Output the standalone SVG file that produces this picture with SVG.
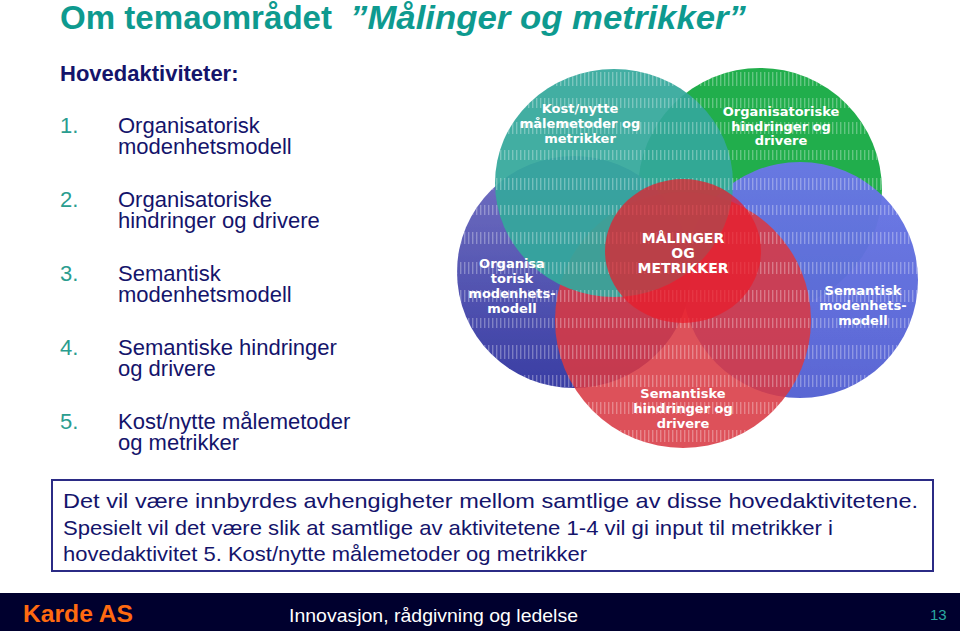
<svg xmlns="http://www.w3.org/2000/svg" width="960" height="631" viewBox="0 0 960 631">
<style>
.title{font-family:"Liberation Sans",Arial,sans-serif;font-weight:bold;font-size:33px;fill:#0e9a8f}
.hdr{font-family:"Liberation Sans",Arial,sans-serif;font-weight:bold;font-size:22px;fill:#14146b}
.num{font-family:"Liberation Sans",Arial,sans-serif;font-size:22px;fill:#2a9d8f}
.item{font-family:"Liberation Sans",Arial,sans-serif;font-size:22px;fill:#14146b}
.lbl{font-family:"DejaVu Sans",Verdana,sans-serif;font-weight:bold;font-size:13px;fill:#ffffff;text-anchor:middle}
.lblc{font-family:"DejaVu Sans",Verdana,sans-serif;font-weight:bold;font-size:14px;fill:#ffffff;text-anchor:middle}
.box{font-family:"Liberation Sans",Arial,sans-serif;font-size:21px;fill:#14146b}
.foot{font-family:"Liberation Sans",Arial,sans-serif}
</style>
<defs>
<linearGradient id="gLB" x1="0" y1="0" x2="0" y2="1">
<stop offset="0" stop-color="#7472c2"/><stop offset="1" stop-color="#3a3ea4"/>
</linearGradient>
<linearGradient id="gRB" x1="0" y1="0" x2="0" y2="1">
<stop offset="0" stop-color="#6a78e6"/><stop offset="1" stop-color="#5562d2"/>
</linearGradient>
<pattern id="vs" width="4" height="10" patternUnits="userSpaceOnUse">
<rect x="0" y="0" width="1.4" height="10" fill="#ffffff"/>
</pattern>
<clipPath id="cu">
<ellipse cx="614" cy="183" rx="119" ry="114"/>
<circle cx="760" cy="190" r="122"/>
<ellipse cx="800" cy="280" rx="118" ry="118"/>
<ellipse cx="574" cy="272" rx="117" ry="116"/>
<circle cx="683" cy="320" r="128"/>
</clipPath>
</defs>

<rect width="960" height="631" fill="#ffffff"/>

<text class="title" x="60" y="29"><tspan textLength="272" lengthAdjust="spacingAndGlyphs">Om temaområdet</tspan><tspan x="350" font-style="italic" textLength="396" lengthAdjust="spacingAndGlyphs">”Målinger og metrikker”</tspan></text>

<text class="hdr" x="60" y="81">Hovedaktiviteter:</text>
<g id="list">
<text class="num" x="60" y="133">1.</text>
<text class="item" x="118" y="133">Organisatorisk</text>
<text class="item" x="118" y="154">modenhetsmodell</text>
<text class="num" x="60" y="207">2.</text>
<text class="item" x="118" y="207">Organisatoriske</text>
<text class="item" x="118" y="228">hindringer og drivere</text>
<text class="num" x="60" y="281">3.</text>
<text class="item" x="118" y="281">Semantisk</text>
<text class="item" x="118" y="302">modenhetsmodell</text>
<text class="num" x="60" y="355">4.</text>
<text class="item" x="118" y="355">Semantiske hindringer</text>
<text class="item" x="118" y="376">og drivere</text>
<text class="num" x="60" y="429">5.</text>
<text class="item" x="118" y="429">Kost/nytte målemetoder</text>
<text class="item" x="118" y="450">og metrikker</text>
</g>

<g id="venn">
<g id="n-org-hindringer"><circle cx="760" cy="190" r="122" fill="#22ae4c"/></g>
<g id="n-sem-modenhet"><ellipse cx="800" cy="280" rx="118" ry="118" fill="url(#gRB)" opacity="0.97"/></g>
<g id="n-org-modenhet"><ellipse cx="574" cy="272" rx="117" ry="116" fill="url(#gLB)"/></g>
<g id="n-sem-hindringer"><circle cx="683" cy="320" r="128" fill="#d83a44" opacity="0.88"/></g>
<g id="n-kost"><ellipse cx="614" cy="183" rx="119" ry="114" fill="#35a89c" opacity="0.93"/></g>
<g id="stripes" clip-path="url(#cu)" opacity="0.3">
<rect x="440" y="72" width="500" height="14" fill="url(#vs)"/>
<rect x="440" y="98" width="500" height="10" fill="url(#vs)"/>
<rect x="440" y="122" width="500" height="12" fill="url(#vs)"/>
<rect x="440" y="150" width="500" height="10" fill="url(#vs)"/>
<rect x="440" y="178" width="500" height="12" fill="url(#vs)"/>
<rect x="440" y="205" width="500" height="10" fill="url(#vs)"/>
<rect x="440" y="232" width="500" height="12" fill="url(#vs)"/>
<rect x="440" y="262" width="500" height="12" fill="url(#vs)"/>
<rect x="440" y="290" width="500" height="12" fill="url(#vs)"/>
<rect x="440" y="318" width="500" height="10" fill="url(#vs)"/>
<rect x="440" y="345" width="500" height="14" fill="url(#vs)"/>
<rect x="440" y="375" width="500" height="12" fill="url(#vs)"/>
<rect x="440" y="402" width="500" height="12" fill="url(#vs)"/>
<rect x="440" y="430" width="500" height="12" fill="url(#vs)"/>
</g>
<g id="n-center"><ellipse cx="683" cy="251" rx="78" ry="72" fill="#ea1c2a" opacity="0.72"/></g>

<text class="lbl" x="580" y="113">Kost/nytte</text>
<text class="lbl" x="580" y="128">målemetoder og</text>
<text class="lbl" x="580" y="143">metrikker</text>

<text class="lbl" x="781" y="116">Organisatoriske</text>
<text class="lbl" x="781" y="131">hindringer og</text>
<text class="lbl" x="781" y="145">drivere</text>

<text class="lblc" x="683" y="243">MÅLINGER</text>
<text class="lblc" x="683" y="258">OG</text>
<text class="lblc" x="683" y="273">METRIKKER</text>

<text class="lbl" x="512" y="268">Organisa</text>
<text class="lbl" x="512" y="283">torisk</text>
<text class="lbl" x="512" y="298">modenhets-</text>
<text class="lbl" x="512" y="313">modell</text>

<text class="lbl" x="863" y="295">Semantisk</text>
<text class="lbl" x="863" y="310">modenhets-</text>
<text class="lbl" x="863" y="325">modell</text>

<text class="lbl" x="683" y="398">Semantiske</text>
<text class="lbl" x="683" y="413">hindringer og</text>
<text class="lbl" x="683" y="428">drivere</text>
</g>

<g id="note">
<rect x="52" y="480" width="881" height="91" fill="#ffffff" stroke="#2b2b85" stroke-width="2"/>
<text class="box" x="63" y="508" textLength="855" lengthAdjust="spacingAndGlyphs">Det vil være innbyrdes avhengigheter mellom samtlige av disse hovedaktivitetene.</text>
<text class="box" x="63" y="535" textLength="770" lengthAdjust="spacingAndGlyphs">Spesielt vil det være slik at samtlige av aktivitetene 1-4 vil gi input til metrikker i</text>
<text class="box" x="63" y="561" textLength="524" lengthAdjust="spacingAndGlyphs">hovedaktivitet 5. Kost/nytte målemetoder og metrikker</text>
</g>

<g id="footer">
<rect x="0" y="593" width="960" height="38" fill="#00002e"/>
<text class="foot" x="23" y="622" font-size="23" font-weight="bold" fill="#ff6a10" textLength="110" lengthAdjust="spacingAndGlyphs">Karde AS</text>
<text class="foot" x="289" y="622" font-size="19" fill="#ffffff" textLength="289" lengthAdjust="spacingAndGlyphs">Innovasjon, rådgivning og ledelse</text>
<text class="foot" x="930" y="620" font-size="15" fill="#2aa8a0">13</text>
</g>
</svg>
